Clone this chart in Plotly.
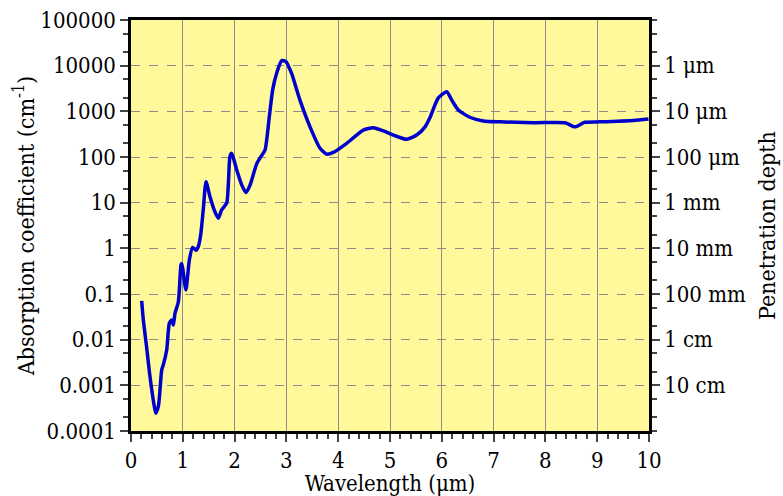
import plotly.graph_objects as go

wavelength_um = [0.206, 0.238, 0.30, 0.36, 0.43, 0.477, 0.53, 0.593, 0.624, 0.69, 0.74, 0.785, 0.817, 0.85,
                 0.914, 0.965, 0.978, 1.0, 1.06, 1.127, 1.19, 1.255, 1.30, 1.345, 1.40, 1.448, 1.525,
                 1.62, 1.686, 1.75, 1.847, 1.88, 1.91, 1.944, 2.04, 2.137, 2.22, 2.30, 2.426, 2.52,
                 2.587, 2.67, 2.735, 2.81, 2.91, 2.99, 3.10, 3.26, 3.456, 3.65, 3.78, 3.906, 4.164,
                 4.485, 4.68, 4.87, 5.13, 5.32, 5.515, 5.676, 5.77, 5.93, 6.095, 6.19, 6.32, 6.54,
                 6.80, 7.12, 7.77, 8.38, 8.57, 8.76, 9.05, 9.70, 9.99]
log_alpha = [-1.15, -1.57, -2.15, -2.75, -3.32, -3.61, -3.45, -2.66, -2.55, -2.22, -1.64, -1.57, -1.68, -1.42,
             -1.17, -0.36, -0.33, -0.45, -0.91, -0.25, 0.02, -0.04, 0.04, 0.29, 0.91, 1.46, 1.13,
             0.80, 0.66, 0.84, 0.99, 1.42, 2.01, 2.08, 1.72, 1.39, 1.22, 1.39, 1.85, 2.03,
             2.15, 2.88, 3.47, 3.83, 4.11, 4.09, 3.83, 3.25, 2.66, 2.19, 2.06, 2.10, 2.30,
             2.59, 2.64, 2.57, 2.45, 2.39, 2.48, 2.66, 2.86, 3.29, 3.43, 3.25, 3.03, 2.87,
             2.79, 2.77, 2.75, 2.75, 2.66, 2.76, 2.77, 2.80, 2.83]
absorption_cm = [10 ** v for v in log_alpha]

left_tickvals = [1e-4, 1e-3, 1e-2, 1e-1, 1, 10, 100, 1000, 10000, 100000]
left_ticktext = ["0.0001", "0.001", "0.01", "0.1", "1", "10", "100", "1000", "10000", "100000"]
right_tickvals = [1e4, 1e3, 1e2, 1e1, 1, 1e-1, 1e-2, 1e-3]
right_ticktext = ["1 \u03bcm", "10 \u03bcm", "100 \u03bcm", "1 mm", "10 mm", "100 mm", "1 cm", "10 cm"]
x_ticks = list(range(0, 11))

FONT = "DejaVu Serif Condensed, DejaVu Serif"
fig = go.Figure()
fig.add_trace(go.Scatter(x=wavelength_um, y=absorption_cm, mode="lines",
                         line=dict(color="#0000CD", width=3.5, shape="spline", smoothing=0.6),
                         showlegend=False))
fig.add_trace(go.Scatter(x=[5], y=[1], yaxis="y2", mode="markers", marker=dict(opacity=0),
                         showlegend=False, hoverinfo="skip"))

fig.update_layout(
    width=783, height=496,
    margin=dict(l=131, r=134, t=20, b=65),
    paper_bgcolor="white", plot_bgcolor="#FFF99B",
    font=dict(family=FONT, size=22, color="black"),
    xaxis=dict(range=[0, 10], tickvals=x_ticks, ticks="outside", ticklen=8, tickwidth=2,
               showline=True, linewidth=2.5, linecolor="black", mirror=True, automargin=False,
               showgrid=True, gridcolor="#8C8C8C", gridwidth=1,
               minor=dict(dtick=0.2, ticks="outside", ticklen=5, tickwidth=1.5, showgrid=False),
               title=dict(text="Wavelength (\u03bcm)", font=dict(size=22, family=FONT), standoff=11),
               tickfont=dict(size=22, family=FONT), zeroline=False),
    yaxis=dict(type="log", range=[-4, 5], tickvals=left_tickvals, ticktext=left_ticktext,
               ticks="outside", ticklen=8, tickwidth=2, automargin=False,
               showline=True, linewidth=2.5, linecolor="black",
               showgrid=True, gridcolor="#8C8C8C", gridwidth=1, griddash="dash",
               minor=dict(ticks="outside", ticklen=5, tickwidth=1.5, showgrid=False),
               title=dict(text="Absorption coefficient (cm<sup>-1</sup>)", font=dict(size=23, family=FONT), standoff=0),
               tickfont=dict(size=22, family=FONT), zeroline=False),
    yaxis2=dict(type="log", range=[-4, 5], overlaying="y", side="right", automargin=False,
                tickvals=right_tickvals, ticktext=right_ticktext,
                ticks="outside", ticklen=8, tickwidth=2,
                showline=True, linewidth=2.5, linecolor="black", showgrid=False,
                minor=dict(ticks="outside", ticklen=5, tickwidth=1.5, showgrid=False),
                title=dict(text="Penetration depth", font=dict(size=23, family=FONT), standoff=14),
                tickfont=dict(size=22, family=FONT), zeroline=False),
)
fig.write_html("out.html")
